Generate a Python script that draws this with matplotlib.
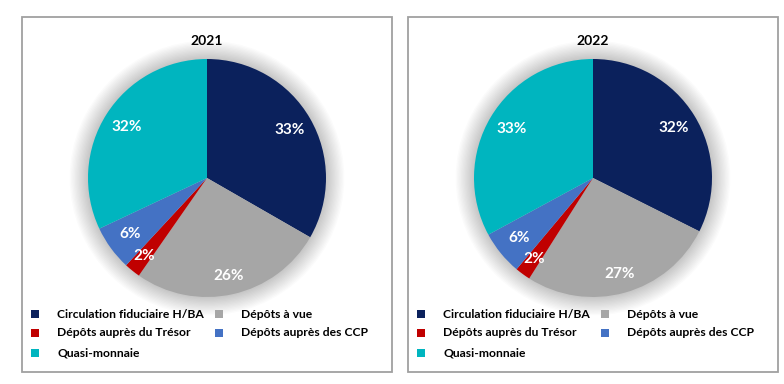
import matplotlib.pyplot as plt
from matplotlib.patches import Rectangle, Circle

plt.rcParams['font.family'] = ['Lato', 'DejaVu Sans']

# data
categories = ["Circulation fiduciaire H/BA", "Dépôts à vue", "Dépôts auprès du Trésor",
              "Dépôts auprès des CCP", "Quasi-monnaie"]
years = ["2021", "2022"]
shares_2021 = [33.3, 26.4, 2.2, 6.1, 32.0]
shares_2022 = [32.4, 26.6, 2.1, 6.0, 32.9]
colors = ["#0B215C", "#A6A6A6", "#C00000", "#4472C4", "#00B5BF"]

W, H = 784, 384
fig = plt.figure(figsize=(W / 100, H / 100), dpi=100)

panels = [(22, years[0], shares_2021), (408, years[1], shares_2022)]
R = 119
lim = 1.25

for x0, year, shares in panels:
    # panel border
    fig.patches.append(Rectangle((x0 / W, 1 - 372 / H), 370 / W, 355 / H,
                                 transform=fig.transFigure, fill=False,
                                 edgecolor="#A0A0A0", linewidth=1.3))
    cx, cy = x0 + 185, 178
    size = 2 * R * lim
    ax = fig.add_axes([(cx - size / 2) / W, (H - cy - size / 2) / H, size / W, size / H])
    # soft glow behind the pie
    for i in range(14):
        ax.add_patch(Circle((0, 0), 1.0 + 0.011 * (i + 1), color="#000000",
                            alpha=0.014, linewidth=0, zorder=0))
    wedges, texts, autotexts = ax.pie(shares, colors=colors, startangle=90,
                                      counterclock=False, autopct='%.0f%%',
                                      pctdistance=0.8,
                                      wedgeprops=dict(linewidth=0),
                                      textprops=dict(color="white", fontsize=11,
                                                     fontweight="bold"))
    for w in wedges:
        w.set_zorder(2)
    for t in autotexts:
        t.set_zorder(3)
    # small slices' labels sit a little further out
    for t in autotexts[1:3]:
        px, py = t.get_position()
        t.set_position((px * 1.05, py * 1.05))
    ax.set_xlim(-lim, lim)
    ax.set_ylim(-lim, lim)
    ax.set_aspect("equal")
    ax.axis("off")

    fig.text(cx / W, 1 - 41 / H, year, ha="center", va="center",
             fontsize=10, fontweight="bold", color="black")

    # legend, row-wise in two columns
    rows = [314, 333, 353]
    cols = [(x0 + 13, x0 + 35), (x0 + 197, x0 + 219)]
    for k, (name, col) in enumerate(zip(categories, colors)):
        r, c = divmod(k, 2)
        mx, tx = cols[c]
        y = 1 - rows[r] / H
        fig.patches.append(Rectangle((mx / W - 4 / W, y - 4 / H), 8 / W, 8 / H,
                                     transform=fig.transFigure, facecolor=col,
                                     edgecolor="none"))
        fig.text(tx / W, y, name, ha="left", va="center", fontsize=8.7,
                 fontweight="bold", color="black")

fig.savefig("out.png", dpi=100, facecolor="white")
